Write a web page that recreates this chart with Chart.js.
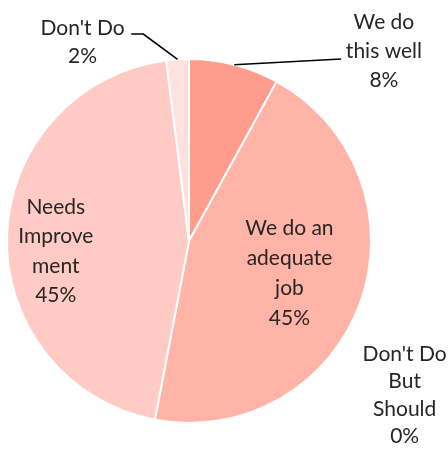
<!DOCTYPE html>
<html>
<head>
<meta charset="utf-8">
<script src="https://cdn.jsdelivr.net/npm/chart.js@4"></script>
<style>
  html, body { margin: 0; padding: 0; background: #ffffff; }
  #wrap { width: 448px; height: 449px; }
</style>
</head>
<body>
<div id="wrap"><canvas id="c" width="448" height="449"></canvas></div>
<script>
// Slice names (multi-line, as shown next to each slice)
const categories = [
  ['We do', 'this well'],
  ['We do an', 'adequate', 'job'],
  ["Don't Do", 'But', 'Should'],
  ['Needs', 'Improve', 'ment'],
  ["Don't Do"]
];
// Share of responses, percent
const shares = [8, 45, 0, 45, 2];
const sliceColors = ['#FF9C8B', '#FFB4A7', '#FFC0B5', '#FFCBC4', '#FFE1DD'];

// Label placement in units of the pie radius, relative to the pie centre.
// text: centre of the text block; lead: leader line points (from slice edge outward)
const labelLayout = [
  { text: [1.071, -1.044], lead: [[0.836, -1.0]], lh: 29 },
  { text: [0.552, 0.175], lh: 30 },
  { text: [1.185, 0.847], lh: 27.5 },
  { text: [-0.732, 0.057], lh: 29.5 },
  { text: [-0.585, -1.093], lead: [[-0.251, -1.137], [-0.317, -1.137]], lh: 28 }
];

const FONT = '21px Lato, "DejaVu Sans", sans-serif';

const sliceLabels = {
  id: 'sliceLabels',
  afterDatasetsDraw(chart) {
    const ctx = chart.ctx;
    const meta = chart.getDatasetMeta(0);
    ctx.save();
    meta.data.forEach((arc, i) => {
      const p = arc.getProps(['x', 'y', 'startAngle', 'endAngle', 'outerRadius'], true);
      const R = p.outerRadius;
      const L = labelLayout[i];
      if (L.lead) {
        const mid = (p.startAngle + p.endAngle) / 2;
        ctx.beginPath();
        ctx.moveTo(p.x + Math.cos(mid) * R, p.y + Math.sin(mid) * R);
        L.lead.forEach(pt => ctx.lineTo(p.x + pt[0] * R, p.y + pt[1] * R));
        ctx.strokeStyle = '#000000';
        ctx.lineWidth = 1.6;
        ctx.stroke();
      }
      const lines = categories[i].concat([shares[i] + '%']);
      const cx = p.x + L.text[0] * R;
      const cy = p.y + L.text[1] * R;
      ctx.font = FONT;
      ctx.fillStyle = '#262626';
      ctx.textAlign = 'center';
      ctx.textBaseline = 'middle';
      const top = cy - (lines.length - 1) * L.lh / 2;
      lines.forEach((t, k) => ctx.fillText(t, cx, top + k * L.lh));
    });
    ctx.restore();
  }
};

new Chart(document.getElementById('c'), {
  type: 'pie',
  data: {
    labels: categories.map(c => c.join(' ')),
    datasets: [{
      data: shares,
      backgroundColor: sliceColors,
      borderColor: '#ffffff',
      borderWidth: 2
    }]
  },
  options: {
    responsive: false,
    animation: false,
    layout: { padding: { left: 6, right: 76, top: 58, bottom: 25 } },
    plugins: {
      legend: { display: false },
      tooltip: { enabled: false }
    }
  },
  plugins: [sliceLabels]
});
</script>
</body>
</html>
